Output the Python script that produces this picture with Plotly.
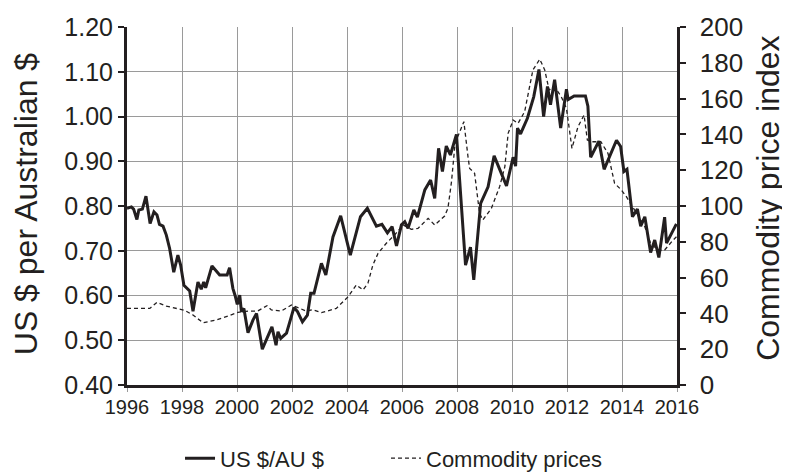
import plotly.graph_objects as go

# US $ per Australian $ (decimal year, value)
aud_years = [1996.00, 1996.16, 1996.24, 1996.36, 1996.43, 1996.56, 1996.69, 1996.84, 1996.98, 1997.09,
             1997.18, 1997.31, 1997.43, 1997.55, 1997.70, 1997.85, 1997.95, 1998.07, 1998.28, 1998.40,
             1998.58, 1998.70, 1998.79, 1998.86, 1998.93, 1999.09, 1999.37, 1999.64, 1999.73, 1999.85,
             1999.93, 2000.01, 2000.10, 2000.16, 2000.25, 2000.40, 2000.58, 2000.71, 2000.92, 2001.11,
             2001.27, 2001.42, 2001.49, 2001.59, 2001.80, 2001.92, 2002.07, 2002.20, 2002.38, 2002.56,
             2002.68, 2002.80, 2003.07, 2003.23, 2003.49, 2003.77, 2003.92, 2004.12, 2004.49, 2004.74,
             2005.07, 2005.27, 2005.47, 2005.64, 2005.80, 2005.98, 2006.10, 2006.22, 2006.43, 2006.56,
             2006.83, 2007.04, 2007.19, 2007.33, 2007.47, 2007.61, 2007.76, 2007.98, 2008.31, 2008.49,
             2008.61, 2008.86, 2009.13, 2009.35, 2009.80, 2010.04, 2010.13, 2010.20, 2010.31, 2010.56,
             2010.79, 2010.98, 2011.15, 2011.29, 2011.40, 2011.55, 2011.77, 2011.98, 2012.04, 2012.26,
             2012.67, 2012.76, 2012.86, 2013.16, 2013.35, 2013.80, 2013.95, 2014.07, 2014.18, 2014.38,
             2014.56, 2014.68, 2014.83, 2015.04, 2015.19, 2015.34, 2015.55, 2015.62, 2015.98]
aud_values = [0.795, 0.798, 0.793, 0.770, 0.791, 0.793, 0.822, 0.761, 0.787, 0.780,
              0.759, 0.755, 0.735, 0.705, 0.652, 0.690, 0.668, 0.623, 0.610, 0.565,
              0.630, 0.614, 0.630, 0.617, 0.632, 0.666, 0.646, 0.646, 0.662, 0.616,
              0.600, 0.580, 0.601, 0.564, 0.571, 0.517, 0.545, 0.560, 0.480, 0.506,
              0.530, 0.489, 0.519, 0.504, 0.516, 0.541, 0.573, 0.564, 0.541, 0.556,
              0.605, 0.605, 0.672, 0.646, 0.731, 0.778, 0.743, 0.690, 0.776, 0.795,
              0.755, 0.759, 0.740, 0.754, 0.711, 0.758, 0.765, 0.750, 0.791, 0.775,
              0.836, 0.858, 0.817, 0.929, 0.877, 0.934, 0.914, 0.960, 0.668, 0.708,
              0.635, 0.806, 0.843, 0.912, 0.845, 0.909, 0.889, 0.974, 0.961, 0.996,
              1.044, 1.105, 1.000, 1.067, 1.026, 1.082, 0.974, 1.061, 1.038, 1.046,
              1.046, 1.023, 0.909, 0.945, 0.882, 0.947, 0.933, 0.877, 0.882, 0.776,
              0.793, 0.755, 0.776, 0.696, 0.724, 0.685, 0.775, 0.717, 0.760]

# Commodity price index (decimal year, value)
com_years = [1996.00, 1996.83, 1997.09, 1997.43, 1998.10, 1998.40, 1998.76, 1999.25, 1999.67, 2000.04,
             2000.40, 2000.75, 2001.09, 2001.25, 2001.61, 2001.98, 2002.52, 2002.75, 2003.07, 2003.61,
             2004.04, 2004.34, 2004.58, 2004.76, 2004.94, 2005.13, 2005.43, 2005.73, 2006.04, 2006.34,
             2006.58, 2006.95, 2007.19, 2007.55, 2007.67, 2007.80, 2007.93, 2008.06, 2008.25, 2008.40,
             2008.46, 2008.64, 2008.82, 2008.94, 2009.25, 2009.55, 2009.74, 2009.86, 2010.04, 2010.22,
             2010.46, 2010.76, 2011.01, 2011.19, 2011.35, 2011.55, 2011.79, 2011.98, 2012.18, 2012.40,
             2012.62, 2012.74, 2012.89, 2013.23, 2013.49, 2013.73, 2013.98, 2014.16, 2014.40, 2014.61,
             2014.83, 2015.04, 2015.31, 2015.55, 2015.86, 2015.98]
com_values = [42.8, 42.8, 46.2, 44.1, 41.7, 39.1, 34.8, 36.3, 38.5, 40.6,
              41.3, 41.3, 44.3, 41.9, 41.3, 44.7, 41.3, 42.0, 40.4, 42.8,
              49.3, 55.9, 53.1, 56.8, 67.0, 73.6, 79.2, 83.8, 89.4, 87.0,
              87.5, 93.1, 89.4, 94.4, 98.7, 113.6, 135.0, 139.7, 147.1, 127.5,
              121.0, 118.3, 95.9, 92.2, 98.7, 110.8, 122.0, 140.6, 148.0, 146.2,
              152.7, 176.0, 182.0, 176.0, 164.8, 166.6, 161.1, 154.6, 132.2, 144.3,
              150.8, 136.9, 135.9, 135.9, 129.4, 112.7, 108.9, 105.2, 99.6, 94.0,
              88.4, 79.2, 75.4, 75.4, 81.0, 82.8]

x_ticks = [1996, 1998, 2000, 2002, 2004, 2006, 2008, 2010, 2012, 2014, 2016]
left_ticks = [0.40, 0.50, 0.60, 0.70, 0.80, 0.90, 1.00, 1.10, 1.20]
right_ticks = [0, 20, 40, 60, 80, 100, 120, 140, 160, 180, 200]

left_title = "US $ per Australian $"
right_title = "Commodity price index"

INK = "#231f20"
GRID = "#9a9a9a"
FONT = "Liberation Sans, Arial, sans-serif"

fig = go.Figure()
fig.add_trace(go.Scatter(
    x=aud_years, y=aud_values, name="US $/AU $", mode="lines",
    line=dict(color=INK, width=3), yaxis="y", legend="legend"))
fig.add_trace(go.Scatter(
    x=com_years, y=com_values, name="Commodity prices", mode="lines",
    line=dict(color=INK, width=1.3, dash="4px,3px"), yaxis="y2", legend="legend2"))

legend_style = dict(orientation="h", xanchor="left", y=-0.205, yanchor="middle",
                    font=dict(family=FONT, size=22, color=INK),
                    itemwidth=30, bgcolor="rgba(0,0,0,0)")

# The page body has an 8px margin, so the figure is sized to fill the rest of the window.
fig.update_layout(
    width=782, height=465,
    margin=dict(l=119, r=113, t=19, b=88, autoexpand=False),
    paper_bgcolor="white", plot_bgcolor="white",
    font=dict(family=FONT, color=INK),
    showlegend=True,
    legend=dict(x=0.0964, **legend_style),
    legend2=dict(x=0.4709, **legend_style),
    xaxis=dict(range=[1996, 2016], tickvals=x_ticks, ticktext=[str(t) for t in x_ticks],
               showgrid=True, gridcolor=GRID, gridwidth=1,
               showline=True, linewidth=3, linecolor=INK,
               ticks="outside", ticklen=4, tickwidth=1, tickcolor=GRID,
               ticklabelstandoff=-2,
               tickfont=dict(family=FONT, size=20, color=INK), zeroline=False,
               automargin=False),
    yaxis=dict(range=[0.40, 1.20], tickvals=left_ticks,
               ticktext=["%.2f" % v for v in left_ticks],
               showgrid=True, gridcolor=GRID, gridwidth=1,
               showline=True, linewidth=3, linecolor=INK,
               ticks="outside", ticklen=6, tickwidth=2, tickcolor=INK,
               tickfont=dict(size=25, color=INK), zeroline=False, automargin=False),
    yaxis2=dict(range=[0, 200], tickvals=right_ticks,
                ticktext=["\u2006\u2006" + str(v) for v in right_ticks],
                overlaying="y", side="right",
                showgrid=False, showline=True, linewidth=3, linecolor=INK,
                ticks="outside", ticklen=6, tickwidth=2, tickcolor=INK,
                tickfont=dict(size=26, color=INK), zeroline=False, automargin=False),
    annotations=[
        dict(text=left_title, xref="paper", yref="paper", x=-0.1836, y=0.505,
             xanchor="center", yanchor="middle", textangle=-90, showarrow=False,
             font=dict(size=32, color=INK)),
        dict(text=right_title, xref="paper", yref="paper", x=1.1655, y=0.52,
             xanchor="center", yanchor="middle", textangle=-90, showarrow=False,
             font=dict(size=32, color=INK)),
    ],
)

fig.write_html("out.html")
